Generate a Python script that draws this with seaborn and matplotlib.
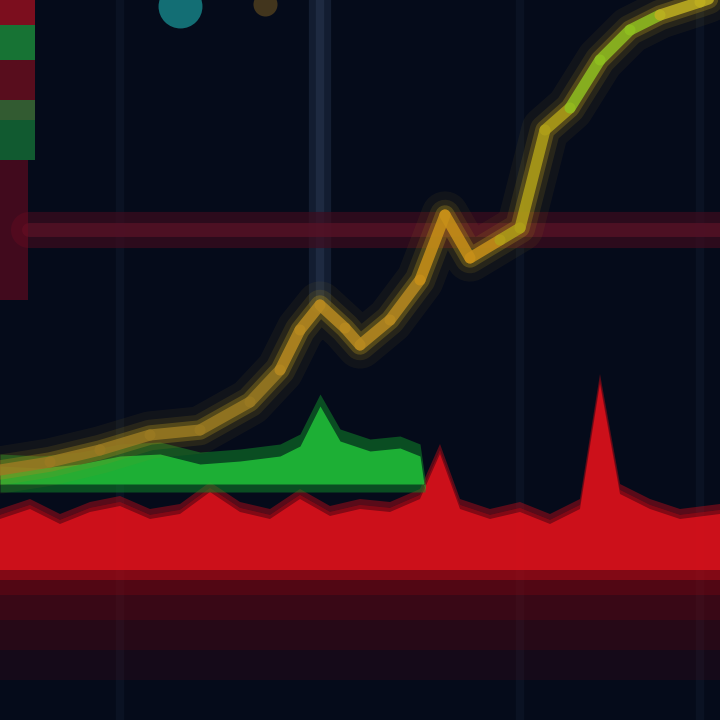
import numpy as np
import pandas as pd
import matplotlib
matplotlib.use("Agg")
import matplotlib.pyplot as plt
import seaborn as sns

sns.set_theme(style="dark")

# Price line (rising), x positions and values
price_x = [0, 50, 100, 150, 200, 250, 280, 300, 320, 345, 360, 390, 420, 445, 470, 500, 520, 545, 570, 600, 630, 660, 700, 720]
price_y = [250, 258, 270, 285, 290, 318, 350, 390, 415, 392, 375, 400, 440, 505, 462, 480, 492, 590, 612, 660, 690, 705, 718, 725]

# Green volume band (top edge)
green_x = [0, 40, 80, 120, 160, 200, 240, 280, 300, 320, 340, 370, 400, 420, 425]
green_top = [260, 258, 262, 270, 272, 262, 265, 270, 280, 320, 285, 275, 278, 270, 235]

# Red volume band (top edge)
red_x = [0, 30, 60, 90, 120, 150, 180, 210, 240, 270, 300, 330, 360, 390, 420, 440, 460, 490, 520, 550, 580, 600, 620, 650, 680, 720]
red_top = [205, 215, 200, 212, 218, 205, 210, 232, 212, 205, 225, 208, 215, 212, 225, 270, 215, 205, 212, 200, 215, 340, 230, 215, 205, 210]

# Horizontal resistance level
level_y = 490

bg = "#050b1a"
fig = plt.figure(figsize=(7.2, 7.2), dpi=100, facecolor=bg)
ax = fig.add_axes([0, 0, 1, 1])
ax.set_facecolor(bg)
ax.set_xlim(0, 720)
ax.set_ylim(0, 720)

# faint grid
for gx in [120, 520, 700]:
    ax.axvline(gx, color="#141d33", lw=6, alpha=0.4, zorder=0)
ax.axvline(320, ymin=0.58, ymax=1.0, color="#1e2a42", lw=16, alpha=0.6, zorder=0)
ax.axvline(320, ymin=0.58, ymax=1.0, color="#26334d", lw=6, alpha=0.6, zorder=0)

# resistance line
ax.axhline(level_y, xmin=0.04, xmax=1.0, color="#3e0c1e", lw=26, alpha=0.7, zorder=1)
ax.axhline(level_y, xmin=0.04, xmax=1.0, color="#561226", lw=10, alpha=0.8, zorder=1)

# red band with downward fade
rx = np.array(red_x)
rt = np.array(red_top)
for bottom, a in [(40, 0.12), (70, 0.15), (100, 0.2), (125, 0.3)]:
    ax.fill_between(rx, bottom, rt, color="#8a0612", alpha=a, lw=0, zorder=2)
ax.fill_between(rx, 140, rt + 6, color="#c00d18", alpha=0.45, lw=0, zorder=2)
ax.fill_between(rx, 150, rt - 4, color="#e0121c", alpha=0.8, lw=0, zorder=2)

# green band
gx_ = np.array(green_x)
gt = np.array(green_top)
ax.fill_between(gx_, 228, gt + 6, color="#0f8f2a", alpha=0.5, lw=0, zorder=3)
ax.fill_between(gx_, 236, gt - 6, color="#22c83a", alpha=0.8, lw=0, zorder=3)

# price line with glow
df = pd.DataFrame({"x": price_x, "y": price_y})
for lw, a in [(34, 0.08), (22, 0.15), (14, 0.35)]:
    sns.lineplot(data=df, x="x", y="y", ax=ax, color="#a88a1a", lw=lw, alpha=a, zorder=4)
cols = (["#9a7a22"] * 6 + ["#b88a20"] * 6 + ["#c89018"] * 3 + ["#b0a018"] * 3
        + ["#90c020"] * 3 + ["#c0b020"] * 3)
for i in range(len(price_x) - 1):
    ax.plot(price_x[i:i + 2], price_y[i:i + 2], color=cols[min(i, len(cols) - 1)],
            lw=8, alpha=0.85, solid_capstyle="round", zorder=5)

# left candle blocks
ax.fill_between([0, 35], 695, 720, color="#b01020", alpha=0.7, lw=0, zorder=3)
ax.fill_between([0, 35], 660, 695, color="#1fa040", alpha=0.7, lw=0, zorder=3)
ax.fill_between([0, 35], 600, 660, color="#901020", alpha=0.6, lw=0, zorder=3)
ax.fill_between([0, 35], 560, 620, color="#1a9040", alpha=0.6, lw=0, zorder=3)
ax.fill_between([0, 28], 420, 560, color="#6a0a20", alpha=0.6, lw=0, zorder=3)
ax.scatter([180], [714], s=1000, color="#20c0c0", alpha=0.55, lw=0, zorder=3)
ax.scatter([265], [716], s=300, color="#806020", alpha=0.5, lw=0, zorder=3)

ax.set_xlabel("")
ax.set_ylabel("")
ax.set_xticks([])
ax.set_yticks([])
for s in ax.spines.values():
    s.set_visible(False)

fig.savefig("out.png", dpi=100, facecolor=bg)
